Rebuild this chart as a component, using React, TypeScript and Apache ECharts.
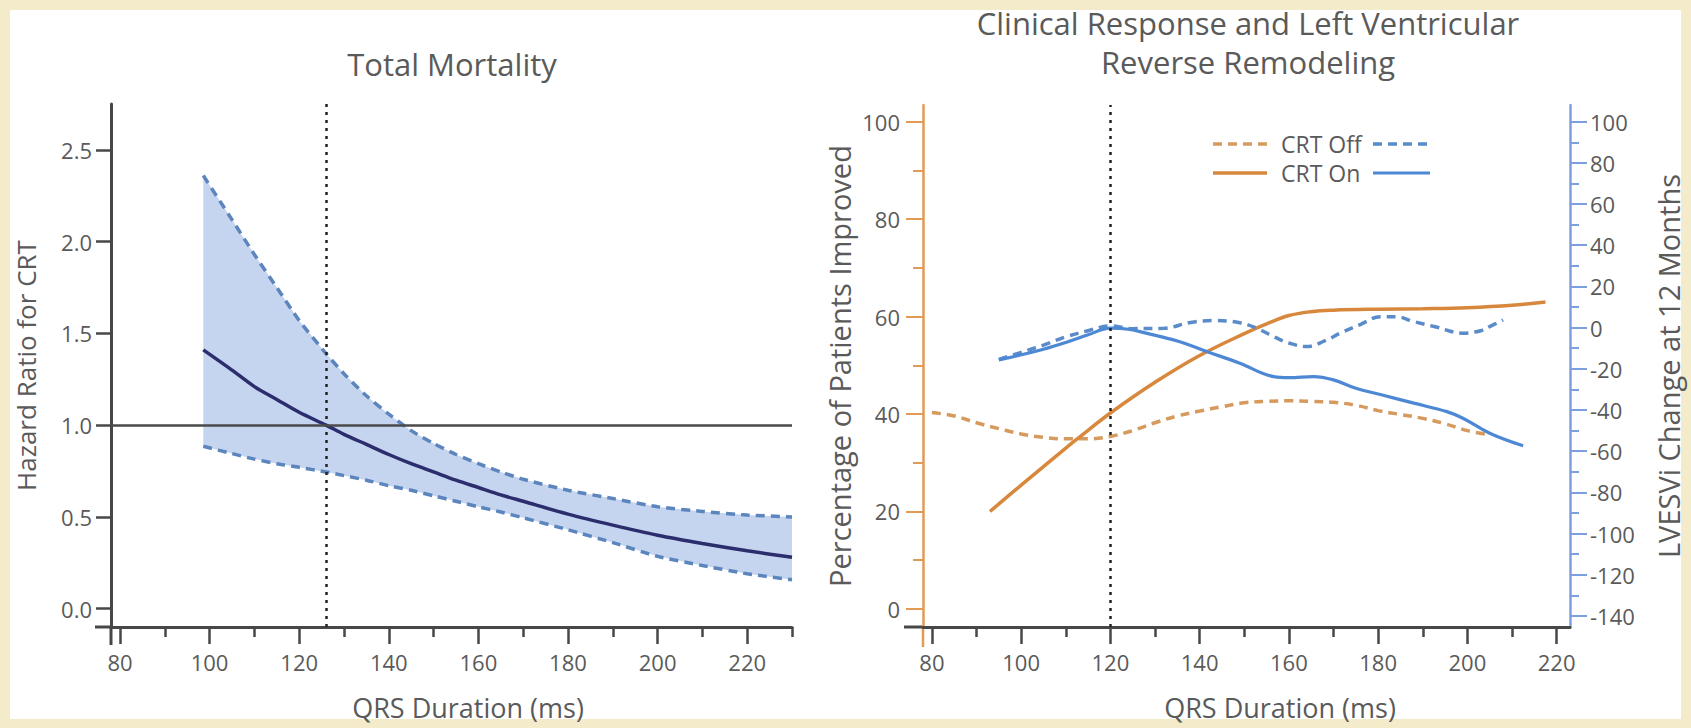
import React, { useEffect, useRef } from "react";
import * as echarts from "echarts";

// ---------- Left panel: Total Mortality ----------
const hrX = [98.6, 105, 110, 115, 120, 126, 130, 135, 140, 145, 150, 155, 160, 165, 170, 180, 190, 200, 210, 220, 230];
const hrUpper = [2.36, 2.12, 1.93, 1.75, 1.57, 1.39, 1.28, 1.16, 1.06, 0.97, 0.9, 0.84, 0.79, 0.745, 0.705, 0.645, 0.6, 0.555, 0.53, 0.51, 0.5];
const hrLower = [0.885, 0.845, 0.815, 0.79, 0.77, 0.745, 0.725, 0.7, 0.67, 0.645, 0.615, 0.585, 0.555, 0.527, 0.495, 0.43, 0.36, 0.285, 0.235, 0.19, 0.158];
const hrMean = [1.41, 1.3, 1.21, 1.14, 1.07, 1.0, 0.95, 0.895, 0.84, 0.79, 0.745, 0.7, 0.66, 0.62, 0.585, 0.515, 0.455, 0.4, 0.355, 0.315, 0.28];
const hrCutoff = 126;
const hrRef = 1.0;

const hrTicks = [0, 0.5, 1, 1.5, 2, 2.5];
const qrsTicks = [80, 100, 120, 140, 160, 180, 200, 220];
const qrsMinorLeft = [90, 110, 130, 150, 170, 190, 210, 230];
const qrsMinorRight = [90, 110, 130, 150, 170, 190, 210];

// ---------- Right panel: Clinical response & LV reverse remodeling ----------
const pctTicks = [0, 20, 40, 60, 80, 100];
const pctMinor = [10, 30, 50, 70, 90];
const lvTicks = [-140, -120, -100, -80, -60, -40, -20, 0, 20, 40, 60, 80, 100];
const lvMinor = [-130, -110, -90, -70, -50, -30, -10, 10, 30, 50, 70, 90];
const respCutoff = 120;

const pctOnX = [93, 100, 110, 113, 120, 130, 140, 150, 155, 160, 165, 170, 180, 190, 200, 210, 217.5];
const pctOn = [20, 25.4, 33, 35.2, 40.2, 46.5, 52, 56.5, 58.5, 60.2, 61, 61.3, 61.5, 61.6, 61.8, 62.3, 63];

const pctOffX = [80, 85, 90, 95, 100, 105, 110, 115, 120, 125, 130, 135, 140, 145, 150, 155, 160, 165, 170, 175, 180, 185, 190, 195, 200, 204.5];
const pctOff = [40.3, 39.6, 38.2, 37, 35.9, 35.2, 34.9, 34.9, 35.4, 36.6, 38.2, 39.6, 40.6, 41.5, 42.3, 42.6, 42.7, 42.6, 42.4, 41.8, 40.7, 39.9, 39.1, 38, 36.6, 35.8];

const lvOnX = [95, 100, 105, 110, 115, 120, 124, 128, 135, 141.7, 149, 156.6, 160, 165.5, 170, 175, 180.5, 188, 195.4, 199, 205, 212.5];
const lvOn = [-15.7, -13.2, -10.5, -7.2, -3.5, -0.3, -0.8, -2.7, -6.5, -11.7, -17.3, -23.8, -24.3, -23.8, -25.4, -29.5, -32.5, -36.7, -40.8, -44, -51.3, -57.4];

const lvOffX = [95, 100, 105, 110, 115, 120, 125, 132, 138, 143, 149, 153, 156.6, 160, 164, 168, 171.5, 176, 180.5, 184, 188, 193, 199, 203, 205, 208];
const lvOff = [-15.5, -12, -8.5, -4.5, -1.5, 0.8, -0.5, -0.3, 2.5, 3.4, 2.4, -0.5, -4.4, -7.5, -9.2, -6.5, -2.7, 1.5, 5.3, 5.3, 2.9, 0.3, -2.7, -1.5, 0.5, 3.7];

const zip = (xs: number[], ys: number[]) => xs.map((x, i) => [x, ys[i]]);

const FONT = "'Open Sans', 'DejaVu Sans', sans-serif";
const GRAY = "#5a5a5a";
const AXIS_DARK = "#474747";
const ORANGE = "#d7883c";
const ORANGE_DASH = "#d69a5e";
const ORANGE_AXIS = "#e29a55";
const BLUE = "#4d88d4";
const BLUE_DASH = "#5b8bc9";
const BLUE_AXIS = "#7d9fe0";
const BAND = "#c5d5f0";
const HR_DASH = "#5d85bd";
const NAVY = "#2c2d6c";

export default function App() {
  const ref = useRef<HTMLDivElement>(null);

  useEffect(() => {
    document.body.style.margin = "0";
    if (!ref.current) return;
    const chart = echarts.init(ref.current, undefined, { renderer: "svg" });

    const tickLabel = { color: GRAY, fontSize: 22, fontFamily: FONT };
    const nameStyle = { color: GRAY, fontSize: 29, fontFamily: FONT };
    const titleStyle = { color: GRAY, fontSize: 31, fontWeight: "normal", fontFamily: FONT, lineHeight: 31 };

    const option: any = {
      animation: false,
      backgroundColor: "transparent",
      title: [
        { text: "Total Mortality", left: 452, top: 48, padding: 0, textAlign: "center", textStyle: titleStyle },
        { text: "Clinical Response and Left Ventricular", left: 1248, top: 7, padding: 0, textAlign: "center", textStyle: titleStyle },
        { text: "Reverse Remodeling", left: 1248, top: 46, padding: 0, textAlign: "center", textStyle: titleStyle },
      ],
      grid: [
        { left: 111, top: 104, width: 681, height: 523, containLabel: false },
        { left: 923, top: 105, width: 647, height: 522, containLabel: false },
      ],
      xAxis: [
        {
          gridIndex: 0, type: "value", min: 78, max: 230, position: "bottom",
          axisLine: { onZero: false, lineStyle: { color: AXIS_DARK, width: 3 } },
          axisTick: { customValues: qrsTicks, length: 17, lineStyle: { color: AXIS_DARK, width: 2.5 } },
          axisLabel: { customValues: qrsTicks, margin: 24, ...tickLabel },
          splitLine: { show: false },
        },
        {
          gridIndex: 0, type: "value", min: 78, max: 230, position: "bottom",
          axisLine: { show: false, onZero: false },
          axisTick: { customValues: qrsMinorLeft, length: 10, lineStyle: { color: AXIS_DARK, width: 2.5 } },
          axisLabel: { show: false },
          splitLine: { show: false },
        },
        {
          gridIndex: 1, type: "value", min: 78, max: 223, position: "bottom",
          axisLine: { onZero: false, lineStyle: { color: AXIS_DARK, width: 3 } },
          axisTick: { customValues: qrsTicks, length: 17, lineStyle: { color: AXIS_DARK, width: 2.5 } },
          axisLabel: { customValues: qrsTicks, margin: 24, ...tickLabel },
          splitLine: { show: false },
        },
        {
          gridIndex: 1, type: "value", min: 78, max: 223, position: "bottom",
          axisLine: { show: false, onZero: false },
          axisTick: { customValues: qrsMinorRight, length: 10, lineStyle: { color: AXIS_DARK, width: 2.5 } },
          axisLabel: { show: false },
          splitLine: { show: false },
        },
      ],
      yAxis: [
        {
          gridIndex: 0, type: "value", min: -0.1, max: 2.75, position: "left",
          axisLine: { show: true, onZero: false, lineStyle: { color: AXIS_DARK, width: 3 } },
          axisTick: { show: true, customValues: hrTicks, length: 15, lineStyle: { color: AXIS_DARK, width: 2.5 } },
          axisLabel: { customValues: hrTicks, margin: 19, formatter: (v: number) => v.toFixed(1), ...tickLabel },
          splitLine: { show: false },
          name: "Hazard Ratio for CRT", nameLocation: "middle", nameGap: 72,
          nameTextStyle: { ...nameStyle, fontSize: 26 },
        },
        {
          gridIndex: 1, type: "value", min: -3.7, max: 103.4, position: "left",
          axisLine: { show: true, onZero: false, lineStyle: { color: ORANGE_AXIS, width: 2.5 } },
          axisTick: { show: true, customValues: pctTicks, length: 17, lineStyle: { color: ORANGE_AXIS, width: 2 } },
          axisLabel: { customValues: pctTicks, margin: 23, ...tickLabel },
          splitLine: { show: false },
          name: "Percentage of Patients Improved", nameLocation: "middle", nameGap: 69,
          nameTextStyle: nameStyle,
        },
        {
          gridIndex: 1, type: "value", min: -3.7, max: 103.4, position: "left",
          axisLine: { show: false, onZero: false },
          axisTick: { show: true, customValues: pctMinor, length: 10, lineStyle: { color: ORANGE_AXIS, width: 2 } },
          axisLabel: { show: false },
          splitLine: { show: false },
        },
        {
          gridIndex: 1, type: "value", min: -145.4, max: 108.1, position: "right",
          axisLine: { show: true, onZero: false, lineStyle: { color: BLUE_AXIS, width: 2.5 } },
          axisTick: { show: true, customValues: lvTicks, length: 17, lineStyle: { color: BLUE_AXIS, width: 2 } },
          axisLabel: { customValues: lvTicks, margin: 20, ...tickLabel },
          splitLine: { show: false },
          name: "LVESVi Change at 12 Months", nameLocation: "middle", nameGap: 84,
          nameTextStyle: nameStyle,
        },
        {
          gridIndex: 1, type: "value", min: -145.4, max: 108.1, position: "right",
          axisLine: { show: false, onZero: false },
          axisTick: { show: true, customValues: lvMinor, length: 9, lineStyle: { color: BLUE_AXIS, width: 2 } },
          axisLabel: { show: false },
          splitLine: { show: false },
        },
      ],
      series: [
        {
          name: "95% CI", type: "custom", xAxisIndex: 0, yAxisIndex: 0, silent: true, z: 1,
          data: hrX.map((x, i) => [x, hrLower[i], hrUpper[i]]),
          encode: { x: 0, y: [1, 2] },
          renderItem: (params: any, api: any) => {
            if (params.dataIndex !== 0) return null;
            const top = hrX.map((x, i) => api.coord([x, hrUpper[i]]));
            const bottom = hrX.map((x, i) => api.coord([x, hrLower[i]])).reverse();
            return { type: "polygon", shape: { points: top.concat(bottom) }, style: { fill: BAND } };
          },
        },
        {
          name: "Upper 95% CI", type: "line", xAxisIndex: 0, yAxisIndex: 0,
          data: zip(hrX, hrUpper), symbol: "none", smooth: 0.2,
          lineStyle: { color: HR_DASH, width: 3.5, type: [9, 6] }, z: 3,
        },
        {
          name: "Lower 95% CI", type: "line", xAxisIndex: 0, yAxisIndex: 0,
          data: zip(hrX, hrLower), symbol: "none", smooth: 0.2,
          lineStyle: { color: HR_DASH, width: 3.5, type: [9, 6] }, z: 3,
        },
        {
          name: "Hazard Ratio", type: "line", xAxisIndex: 0, yAxisIndex: 0,
          data: zip(hrX, hrMean), symbol: "none", smooth: 0.3,
          lineStyle: { color: NAVY, width: 3.5 }, z: 4,
          markLine: {
            silent: true, symbol: ["none", "none"], label: { show: false },
            data: [
              { xAxis: hrCutoff, lineStyle: { color: "#222", width: 2.5, type: [3, 5] } },
              { yAxis: hrRef, lineStyle: { color: "#4a4a4a", width: 2.5, type: "solid" } },
            ],
          },
        },
        {
          name: "CRT Off %", type: "line", xAxisIndex: 2, yAxisIndex: 1,
          data: zip(pctOffX, pctOff), symbol: "none", smooth: 0.4,
          lineStyle: { color: ORANGE_DASH, width: 3.5, type: [9, 6] }, z: 3,
          markLine: {
            silent: true, symbol: ["none", "none"], label: { show: false },
            data: [{ xAxis: respCutoff, lineStyle: { color: "#222", width: 2.5, type: [3, 5] } }],
          },
        },
        {
          name: "CRT On %", type: "line", xAxisIndex: 2, yAxisIndex: 1,
          data: zip(pctOnX, pctOn), symbol: "none", smooth: 0.4,
          lineStyle: { color: ORANGE, width: 3.5 }, z: 3,
        },
        {
          name: "CRT Off LVESVi", type: "line", xAxisIndex: 2, yAxisIndex: 3,
          data: zip(lvOffX, lvOff), symbol: "none", smooth: 0.4,
          lineStyle: { color: BLUE_DASH, width: 3.5, type: [9, 6] }, z: 3,
        },
        {
          name: "CRT On LVESVi", type: "line", xAxisIndex: 2, yAxisIndex: 3,
          data: zip(lvOnX, lvOn), symbol: "none", smooth: 0.4,
          lineStyle: { color: BLUE, width: 3.2 }, z: 3,
        },
      ],
      graphic: [
        // axis-cross extensions
        { type: "line", shape: { x1: 95, y1: 627, x2: 111, y2: 627 }, style: { stroke: AXIS_DARK, lineWidth: 3 } },
        { type: "line", shape: { x1: 111, y1: 627, x2: 111, y2: 645 }, style: { stroke: AXIS_DARK, lineWidth: 3 } },
        { type: "line", shape: { x1: 904, y1: 627, x2: 923, y2: 627 }, style: { stroke: AXIS_DARK, lineWidth: 3 } },
        { type: "line", shape: { x1: 923, y1: 627, x2: 923, y2: 647 }, style: { stroke: ORANGE_AXIS, lineWidth: 2.5 } },
        // x-axis titles
        { type: "text", x: 468, y: 707, style: { text: "QRS Duration (ms)", fill: GRAY, font: `27px ${FONT}`, align: "center", verticalAlign: "middle" } },
        { type: "text", x: 1280, y: 707, style: { text: "QRS Duration (ms)", fill: GRAY, font: `27px ${FONT}`, align: "center", verticalAlign: "middle" } },
        // legend
        { type: "line", shape: { x1: 1213, y1: 144, x2: 1267, y2: 144 }, style: { stroke: ORANGE_DASH, lineWidth: 3.5, lineDash: [9, 6] } },
        { type: "line", shape: { x1: 1373, y1: 144, x2: 1430, y2: 144 }, style: { stroke: BLUE_DASH, lineWidth: 3.5, lineDash: [9, 6] } },
        { type: "line", shape: { x1: 1213, y1: 173, x2: 1267, y2: 173 }, style: { stroke: ORANGE, lineWidth: 3.5 } },
        { type: "line", shape: { x1: 1373, y1: 173, x2: 1430, y2: 173 }, style: { stroke: BLUE, lineWidth: 3.2 } },
        { type: "text", x: 1281, y: 144, style: { text: "CRT Off", fill: GRAY, font: `23px ${FONT}`, verticalAlign: "middle" } },
        { type: "text", x: 1281, y: 173, style: { text: "CRT On", fill: GRAY, font: `23px ${FONT}`, verticalAlign: "middle" } },
      ],
    };

    chart.setOption(option);
    return () => chart.dispose();
  }, []);

  return (
    <div style={{ position: "relative", width: 1691, height: 728, background: "#f3ebca", overflow: "hidden" }}>
      <div style={{ position: "absolute", left: 10, top: 10, width: 1671, height: 709, background: "#ffffff" }} />
      <div ref={ref} style={{ position: "absolute", left: 0, top: 0, width: 1691, height: 728 }} />
    </div>
  );
}
